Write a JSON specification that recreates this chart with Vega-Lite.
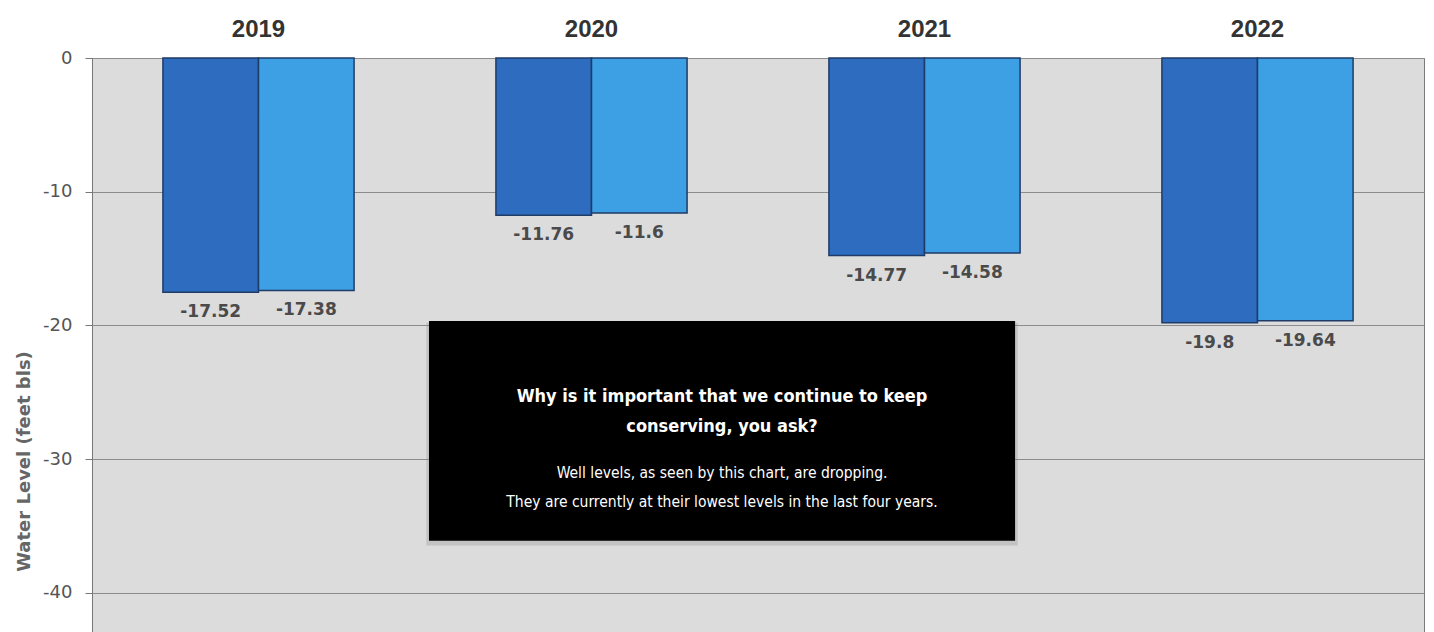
{
  "$schema": "https://vega.github.io/schema/vega-lite/v6.json",
  "width": 1332,
  "height": 575,
  "autosize": {"type": "none"},
  "padding": {"left": 92, "top": 58, "right": 10, "bottom": 0},
  "background": "white",
  "config": {"view": {"fill": "#dcdcdc", "stroke": "#7a7a7a", "strokeWidth": 1}},
  "datasets": {
    "levels": [
      {"year": "2019", "series": "Series 1", "level": -17.52},
      {"year": "2019", "series": "Series 2", "level": -17.38},
      {"year": "2020", "series": "Series 1", "level": -11.76},
      {"year": "2020", "series": "Series 2", "level": -11.6},
      {"year": "2021", "series": "Series 1", "level": -14.77},
      {"year": "2021", "series": "Series 2", "level": -14.58},
      {"year": "2022", "series": "Series 1", "level": -19.8},
      {"year": "2022", "series": "Series 2", "level": -19.64}
    ],
    "note": [{"note": "callout"}]
  },
  "layer": [
    {
      "data": {"name": "levels"},
      "encoding": {
        "x": {
          "field": "year", "type": "nominal",
          "scale": {"paddingInner": 0.426, "paddingOuter": 0.213},
          "axis": {
            "orient": "top", "title": null, "labelAngle": 0,
            "labelFont": "Liberation Sans", "labelFontWeight": "bold", "labelFontSize": 24,
            "labelColor": "#333333", "labelPadding": 17, "ticks": false, "domain": false, "grid": false
          }
        },
        "xOffset": {"field": "series", "type": "nominal", "scale": {"paddingInner": 0, "paddingOuter": 0}},
        "y": {
          "field": "level", "type": "quantitative",
          "scale": {"domain": [-43, 0], "nice": false, "zero": false},
          "axis": {
            "values": [0, -10, -20, -30, -40],
            "labelExpr": "'' + datum.value",
            "labelFont": "DejaVu Sans", "labelFontSize": 18, "labelColor": "#555555",
            "tickSize": 7, "tickColor": "#777777", "labelPadding": 13,
            "domainColor": "#777777", "grid": true, "gridColor": "#8c8c8c", "gridWidth": 1,
            "title": "Water Level (feet bls)", "titleFont": "DejaVu Sans", "titleFontWeight": "bold",
            "titleFontSize": 18, "titleColor": "#666666", "titleX": -59, "titleY": 403
          }
        }
      },
      "layer": [
        {
          "mark": {"type": "bar", "stroke": "#1f3b66", "strokeWidth": 1.5},
          "encoding": {
            "y2": {"datum": 0},
            "color": {
              "field": "series", "type": "nominal",
              "scale": {"domain": ["Series 1", "Series 2"], "range": ["#2e6cbf", "#3ea0e4"]},
              "legend": null
            }
          }
        },
        {
          "mark": {"type": "text", "baseline": "top", "dy": 12, "font": "DejaVu Sans", "fontWeight": "bold", "fontSize": 17, "color": "#4a4a4a"},
          "encoding": {"text": {"field": "level", "type": "nominal"}}
        }
      ]
    },
    {
      "data": {"name": "note"},
      "encoding": {
        "x": {"datum": 1.012, "type": "quantitative", "scale": {"domain": [0, 4], "nice": false, "zero": false}, "axis": null}
      },
      "layer": [
        {
          "mark": {"type": "rect", "color": "#777777", "opacity": 0.25},
          "encoding": {
            "x": {"datum": 1.004, "type": "quantitative", "scale": {"domain": [0, 4], "nice": false, "zero": false}, "axis": null},
            "x2": {"datum": 2.78},
            "y": {"datum": -19.8},
            "y2": {"datum": -36.45}
          }
        },
        {
          "mark": {"type": "rect", "color": "#000000"},
          "encoding": {
            "x2": {"datum": 2.772},
            "y": {"datum": -19.66},
            "y2": {"datum": -36.11}
          }
        },
        {
          "mark": {
            "type": "text", "text": ["Why is it important that we continue to keep", "conserving, you ask?"],
            "font": "Liberation Sans Narrow, DejaVu Sans Condensed, sans-serif", "fontWeight": "bold",
            "fontSize": 18, "lineHeight": 30, "color": "white", "align": "center", "baseline": "middle"
          },
          "encoding": {
            "x": {"datum": 1.892, "type": "quantitative", "scale": {"domain": [0, 4], "nice": false, "zero": false}, "axis": null},
            "y": {"datum": -25.35}
          }
        },
        {
          "mark": {
            "type": "text", "text": ["Well levels, as seen by this chart, are dropping.", "They are currently at their lowest levels in the last four years."],
            "font": "Liberation Sans Narrow, DejaVu Sans Condensed, sans-serif",
            "fontSize": 15.5, "lineHeight": 29, "color": "white", "align": "center", "baseline": "middle"
          },
          "encoding": {
            "x": {"datum": 1.892, "type": "quantitative", "scale": {"domain": [0, 4], "nice": false, "zero": false}, "axis": null},
            "y": {"datum": -31.0}
          }
        }
      ]
    }
  ],
  "resolve": {"scale": {"x": "independent"}}
}
